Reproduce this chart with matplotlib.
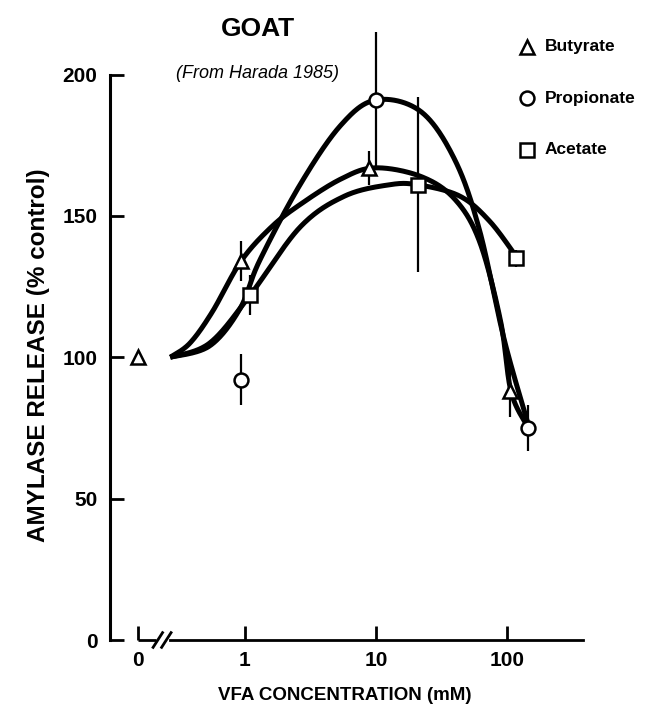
import matplotlib.pyplot as plt
import numpy as np
from matplotlib.lines import Line2D

plt.rcParams['font.family'] = ['Liberation Sans', 'DejaVu Sans']
plt.rcParams['font.weight'] = 'bold'

# log10 position used for the "0" (control) concentration
ZERO_U = -0.82

# measured points: concentration (mM), % control, error
but_conc = [0, 0.93, 8.9, 105]
but_val = [100, 134, 167, 88]
but_err = [0, 7, 6, 9]

pro_conc = [0.93, 10, 145]
pro_val = [92, 191, 75]
pro_err = [9, 24, 8]

ace_conc = [1.1, 21, 117]
ace_val = [122, 161, 135]
ace_err = [7, 31, 3]

# hand-drawn fitted curves (log10 conc, % control)
but_fit_u = [-0.57, -0.42, -0.25, -0.03, 0.2, 0.42, 0.73, 0.99, 1.34, 1.60, 1.79, 1.95, 2.03, 2.15]
but_fit_v = [100, 105, 116, 134, 146, 154, 163, 167, 164, 156, 141, 113, 88, 76]
pro_fit_u = [-0.57, -0.27, -0.04, 0.11, 0.42, 0.73, 1.0, 1.34, 1.60, 1.79, 1.98, 2.17]
pro_fit_v = [100, 104, 117, 134, 161, 182, 191, 187, 170, 145, 106, 75]
ace_fit_u = [-0.57, -0.27, 0.04, 0.42, 0.76, 1.1, 1.32, 1.64, 1.87, 2.08]
ace_fit_v = [100, 105, 122, 146, 157, 161, 161, 157, 148, 135]

x_ticks = [0, 1, 10, 100]
y_ticks = [0, 50, 100, 150, 200]


def to_u(conc):
    return np.array([ZERO_U if c == 0 else np.log10(c) for c in conc])


def smooth(xs, ys, n=40):
    # catmull-rom through the knots
    p = np.column_stack([xs, ys]).astype(float)
    p = np.vstack([p[0], p, p[-1]])
    segs = []
    t = np.linspace(0, 1, n)[:, None]
    for i in range(1, len(p) - 2):
        p0, p1, p2, p3 = p[i - 1], p[i], p[i + 1], p[i + 2]
        segs.append(0.5 * (2 * p1 + (p2 - p0) * t
                           + (2 * p0 - 5 * p1 + 4 * p2 - p3) * t ** 2
                           + (3 * p1 - p0 - 3 * p2 + p3) * t ** 3))
    s = np.vstack(segs)
    return s[:, 0], s[:, 1]


W, H = 664, 715
fig = plt.figure(figsize=(W / 100, H / 100), dpi=100)
x0, x1 = 110, 583
ybot, ytop = 640, 18
ax = fig.add_axes([x0 / W, 1 - ybot / H, (x1 - x0) / W, (ybot - ytop) / H])
ax.set_xlim(-1.03, 2.58)
ax.set_ylim(0, 220)

lw_curve = 3.6
for fu, fv in [(but_fit_u, but_fit_v), (pro_fit_u, pro_fit_v), (ace_fit_u, ace_fit_v)]:
    cx, cy = smooth(fu, fv)
    ax.plot(cx, cy, color='black', lw=lw_curve, solid_capstyle='butt', zorder=2)

ms = 10
for conc, val, err, mk in [(but_conc, but_val, but_err, '^'),
                           (pro_conc, pro_val, pro_err, 'o'),
                           (ace_conc, ace_val, ace_err, 's')]:
    ax.errorbar(to_u(conc), val, yerr=err, fmt=mk, ms=ms, mfc='white', mec='black',
                mew=1.8, ecolor='black', elinewidth=1.6, capsize=0, zorder=3)

# axes
for side in ['top', 'right']:
    ax.spines[side].set_visible(False)
ax.spines['left'].set_bounds(0, 200)
ax.spines['left'].set_linewidth(2.2)
ax.spines['bottom'].set_bounds(-0.57, 2.58)
ax.spines['bottom'].set_linewidth(2.0)
ax.plot([ZERO_U, -0.68], [0, 0], color='black', lw=2.0, clip_on=False, solid_capstyle='butt')
for su in [-0.665, -0.60]:
    ax.plot([su - 0.036, su + 0.036], [-2.6, 2.6], color='black', lw=2.0, clip_on=False)

ax.set_yticks(y_ticks)
ax.set_yticklabels([str(v) for v in y_ticks])
ax.set_xticks(to_u(x_ticks))
ax.set_xticklabels([str(v) for v in x_ticks])
ax.tick_params(axis='both', direction='in', length=10, width=2.0, labelsize=15, pad=9)
ax.tick_params(axis='x', pad=8)
for lab in ax.get_xticklabels() + ax.get_yticklabels():
    lab.set_fontweight('bold')

fig.text(345 / W, 1 - 695 / H, 'VFA CONCENTRATION (mM)', ha='center', va='center',
         fontsize=13.5, fontweight='bold')
fig.text(39 / W, 1 - 355 / H, 'AMYLASE RELEASE (% control)', ha='center', va='center',
         rotation=90, fontsize=17.5, fontweight='bold')
fig.text(258 / W, 1 - 29 / H, 'GOAT', ha='center', va='center', fontsize=19, fontweight='bold')
fig.text(258 / W, 1 - 73 / H, '(From Harada 1985)', ha='center', va='center',
         fontsize=13, fontstyle='italic', fontweight='normal')

# legend drawn by hand
legend_rows = [('^', 'Butyrate', 47), ('o', 'Propionate', 98), ('s', 'Acetate', 150)]
for mk, name, py in legend_rows:
    fig.add_artist(Line2D([527 / W], [1 - py / H], marker=mk, ms=ms, mfc='white',
                          mec='black', mew=1.8, ls='none', transform=fig.transFigure))
    fig.text(545 / W, 1 - py / H, name, ha='left', va='center', fontsize=12.5, fontweight='bold')

fig.savefig('out.png', dpi=100)
